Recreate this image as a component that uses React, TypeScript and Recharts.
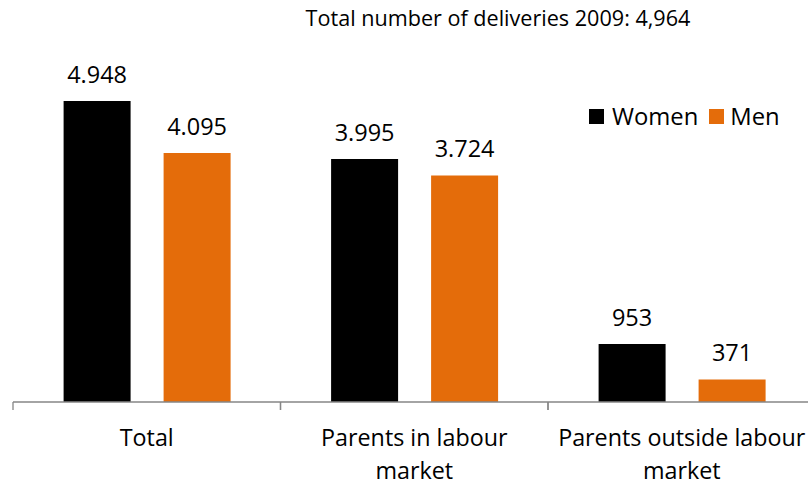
import React from "react";
import { BarChart, Bar, XAxis, YAxis, LabelList } from "recharts";

const categories = ["Total", "Parents in labour market", "Parents outside labour market"];
const tickLines = [["Total"], ["Parents in labour", "market"], ["Parents outside labour", "market"]];
const women = [4948, 3995, 953];
const men = [4095, 3724, 371];
const title = "Total number of deliveries 2009: 4,964";
const seriesNames = ["Women", "Men"];

const data = categories.map((c, i) => ({ name: c, Women: women[i], Men: men[i] }));

const W = 830;
const H = 487;
const M = { top: 37, right: 14.5, bottom: 0, left: 13 };
const FONT = "'Open Sans', sans-serif";
const BLACK = "#000000";
const ORANGE = "#E46C0A";
const AXIS = "#868686";

const fmt = (v: any) => String(v).replace(/\B(?=(\d{3})+(?!\d))/g, ".");

const band = (W - M.left - M.right) / categories.length;

const Tick = (props: any) => {
  const { x, y, payload, index } = props;
  const lines = tickLines[index] || [String(payload.value)];
  return (
    <g>
      <line x1={x - band / 2} x2={x - band / 2} y1={y - 8} y2={y} stroke={AXIS} strokeWidth={1.3} />
      <line x1={x + band / 2} x2={x + band / 2} y1={y - 8} y2={y} stroke={AXIS} strokeWidth={1.3} />
      <text x={x} y={y} textAnchor="middle" fontFamily={FONT} fontSize={23.3} fill="#000">
        {lines.map((l: string, i: number) => (
          <tspan key={i} x={x} y={y + 36 + i * 33}>
            {l}
          </tspan>
        ))}
      </text>
    </g>
  );
};

export default function App() {
  return (
    <div style={{ position: "absolute", left: 0, top: 0, width: 808, height: 487, overflow: "hidden", background: "#fff" }}>
      <BarChart width={W} height={H} data={data} margin={M} barCategoryGap={50.6} barGap={33}>
        <text x={498} y={26} textAnchor="middle" fontFamily={FONT} fontSize={21.6} fill="#000">
          {title}
        </text>
        <XAxis
          dataKey="name"
          height={85}
          axisLine={{ stroke: AXIS, strokeWidth: 1.3 }}
          tickLine={false}
          tick={<Tick />}
          interval={0}
        />
        <YAxis hide domain={[0, 6000]} />
        <Bar dataKey="Women" fill={BLACK} isAnimationActive={false}>
          <LabelList dataKey="Women" position="top" offset={18} formatter={fmt} fontFamily={FONT} fontSize={23.5} fill="#000" />
        </Bar>
        <Bar dataKey="Men" fill={ORANGE} isAnimationActive={false}>
          <LabelList dataKey="Men" position="top" offset={18} formatter={fmt} fontFamily={FONT} fontSize={23.5} fill="#000" />
        </Bar>
      </BarChart>
      <div
        style={{
          position: "absolute",
          top: 100,
          left: 589,
          display: "flex",
          alignItems: "center",
          fontFamily: FONT,
          fontSize: 23.8,
          lineHeight: "32px",
          color: "#000",
          whiteSpace: "nowrap",
        }}
      >
        <span style={{ width: 15, height: 15, background: BLACK, display: "inline-block", marginRight: 8 }} />
        <span style={{ marginRight: 11 }}>{seriesNames[0]}</span>
        <span style={{ width: 15, height: 15, background: ORANGE, display: "inline-block", marginRight: 6 }} />
        <span>{seriesNames[1]}</span>
      </div>
    </div>
  );
}
